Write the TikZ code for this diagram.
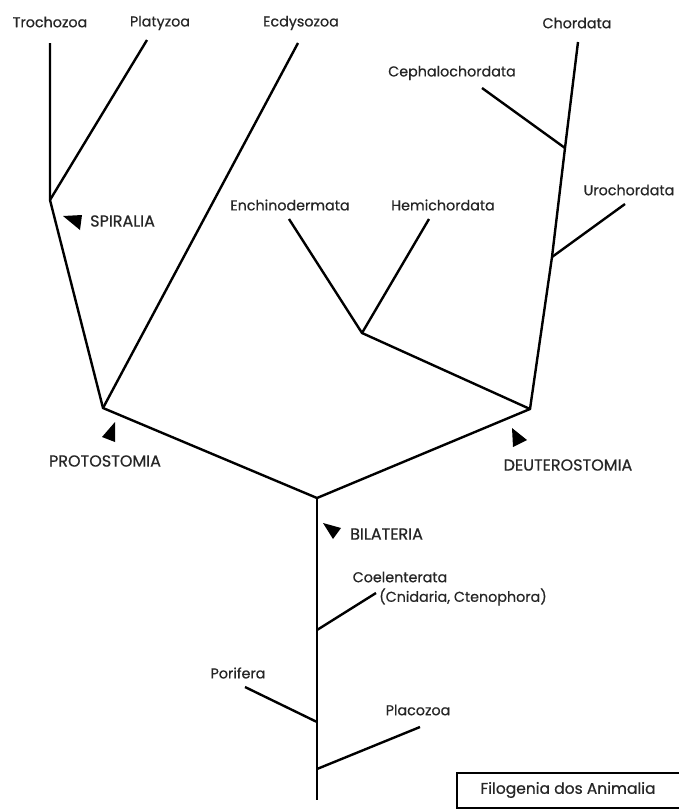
\documentclass[tikz,border=0pt]{standalone}
\usepackage{fontspec}
\setmainfont{Poppins}[FakeBold=0.6]
\begin{document}
\begin{tikzpicture}[x=1pt,y=-1pt,
  branch/.style={line width=2.4pt, line join=miter},
  lbl/.style={font=\fontsize{14.3}{16}\selectfont, text=black!85, inner sep=0pt},
  clade/.style={font=\fontsize{16}{18}\selectfont, text=black!85, inner sep=0pt},
  marker/.style={fill=black}]
\useasboundingbox (0,0) rectangle (678,809);

% taxon labels
\node[lbl] (troch) at (50,22) {Trochozoa};
\node[lbl] (platy) at (160,23) {Platyzoa};
\node[lbl] (ecdy)  at (301,23) {Ecdysozoa};
\node[lbl] (chord) at (577,23) {Chordata};
\node[lbl] (ceph)  at (452,73) {Cephalochordata};
\node[lbl] (uroc)  at (629,190) {Urochordata};
\node[lbl] (echin) at (290,205) {Enchinodermata};
\node[lbl] (hemi)  at (443,205) {Hemichordata};
\node[lbl] (coel)  at (400,577) {Coelenterata};
\node[lbl, anchor=west] (cnid) at (379,597) {(Cnidaria, Ctenophora)};
\node[lbl] (pori)  at (238,673) {Porifera};
\node[lbl] (plac)  at (418,710) {Placozoa};

% clade labels
\node[clade, anchor=west] (spir) at (90,221) {SPIRALIA};
\node[clade] (prot) at (105,461) {PROTOSTOMIA};
\node[clade] (deut) at (568,465) {DEUTEROSTOMIA};
\node[clade, anchor=west] (bila) at (350,534) {BILATERIA};

% internal nodes of the tree
\coordinate (spi)  at (50,200);
\coordinate (pro)  at (103,408);
\coordinate (bil)  at (317,498);
\coordinate (deu)  at (530,409);
\coordinate (amb)  at (362,333);
\coordinate (uro)  at (552,257);
\coordinate (cep)  at (565,148);
\coordinate (coe)  at (317,630);
\coordinate (por)  at (317,722);
\coordinate (pla)  at (317,769);
\coordinate (root) at (317,800);

% branch tips
\coordinate (tTro) at (50,43);
\coordinate (tPla) at (147,40);
\coordinate (tEcd) at (298,43);
\coordinate (tCho) at (578,42);
\coordinate (tCep) at (482,88);
\coordinate (tUro) at (625,204);
\coordinate (tEch) at (289,219);
\coordinate (tHem) at (429,219);
\coordinate (tCoe) at (376,593);
\coordinate (tPor) at (245,687);
\coordinate (tPlc) at (420,727);

% branches
\draw[branch] (tTro) -- (spi) -- (pro) -- (bil) -- (deu) -- (uro) -- (cep) -- (tCho);
\draw[branch] (tPla) -- (spi);
\draw[branch] (tEcd) -- (pro);
\draw[branch] (tEch) -- (amb) -- (deu);
\draw[branch] (tHem) -- (amb);
\draw[branch] (tCep) -- (cep);
\draw[branch] (tUro) -- (uro);
\draw[branch] (bil) -- (root);
\draw[branch] (tCoe) -- (coe);
\draw[branch] (tPor) -- (por);
\draw[branch] (tPlc) -- (pla);

% clade markers
\fill[marker] (63,216) -- (82,215) -- (80,230) -- cycle;
\fill[marker] (115,422) -- (102,437) -- (115,442) -- cycle;
\fill[marker] (512,428) -- (527,440) -- (513,447) -- cycle;
\fill[marker] (323,523) -- (341,528) -- (333,539) -- cycle;

% caption box
\draw[line width=1.8pt] (682,773) -- (457,773) -- (457,808) -- (682,808);
\node[lbl, font=\fontsize{15.5}{17}\selectfont] (title) at (568,790) {Filogenia dos Animalia};
\end{tikzpicture}
\end{document}
